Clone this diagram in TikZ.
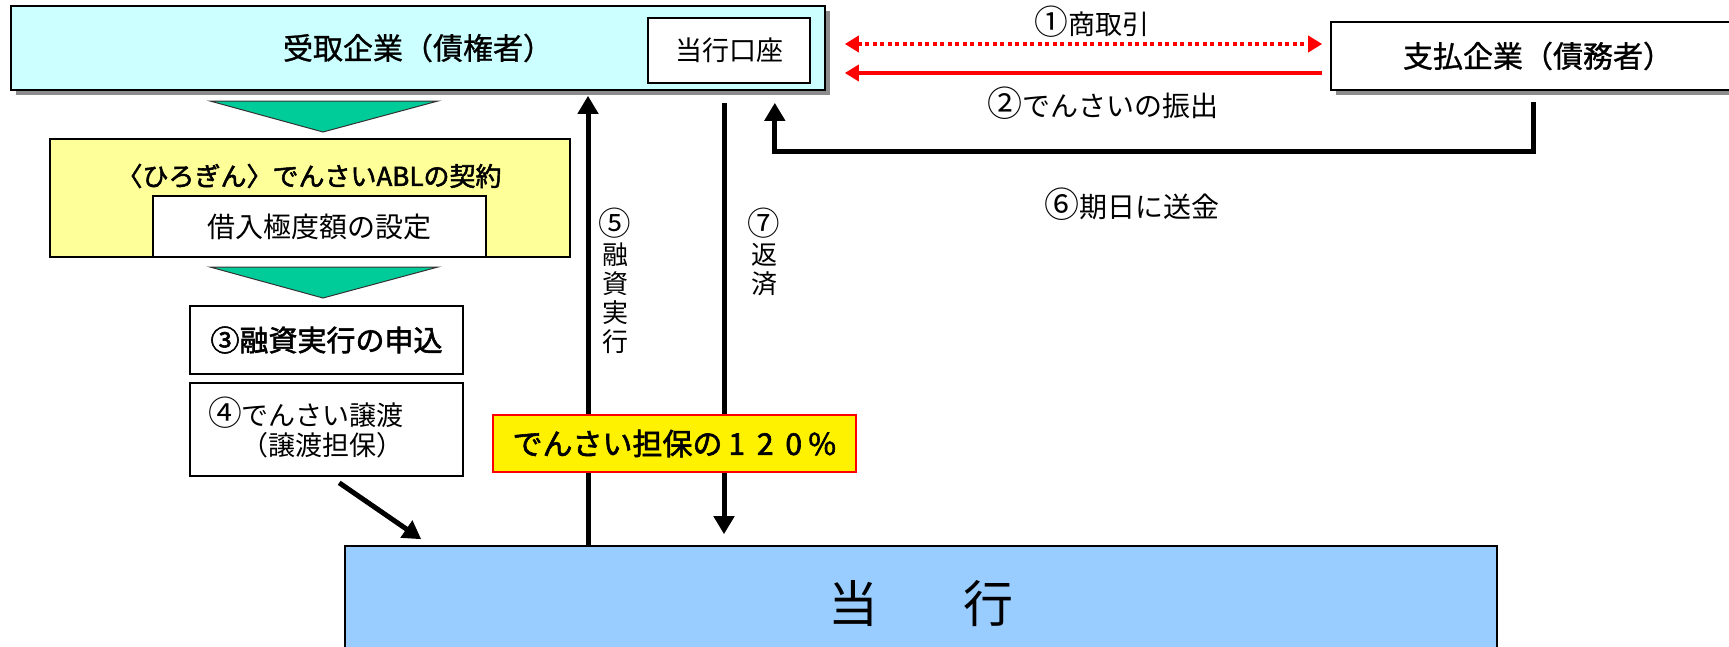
\documentclass[tikz,border=0pt]{standalone}
\usepackage{fontspec}
\newfontfamily\jp[AutoFakeBold=2]{Noto Sans CJK JP}
\newfontfamily\jpmed[FakeBold=1]{Noto Sans CJK JP}
\usetikzlibrary{arrows.meta,shadows,calc}
\newcommand\setfs[1]{\fontsize{#1}{#1}\selectfont}
\newcommand\fwc[1]{\makebox[0.95em]{#1}}
\newcommand\circnum[1]{\scalebox{1.25}{#1}}
\definecolor{cyanbox}{HTML}{CCFFFF}
\definecolor{paleyel}{HTML}{FFFF99}
\definecolor{tealgreen}{HTML}{00CC99}
\definecolor{bankblue}{HTML}{99CCFF}
\begin{document}
\begin{tikzpicture}[x=1pt,y=-1pt,
  box/.style={draw=black, line width=1.6pt, inner sep=0pt, font=\jp},
  shadowed/.style={drop shadow={shadow xshift=5pt, shadow yshift=-5pt, fill=black!45, opacity=1}},
  lbl/.style={inner sep=0pt, font=\jp},
  blkarrow/.style={line width=5pt, -{Triangle[width=20pt,length=18pt]}},
  redarrow/.style={draw=red, line width=4pt, -{Triangle[width=16pt,length=14pt]}},
  reddotted/.style={draw=red, line width=4pt, dash pattern=on 4pt off 3.5pt, {Triangle[width=16pt,length=14pt]}-{Triangle[width=16pt,length=14pt]}},
  tri/.style={fill=tealgreen, draw=black!80, line width=1pt}]
\useasboundingbox (0,0) rectangle (1729,646);

% top: receiving company
\node[box, shadowed, fill=cyanbox, minimum width=814pt, minimum height=84pt, font=\jpmed\setfs{30}] (top) at (418,48) {受取企業（債権者）};
\node[box, fill=white, minimum width=162pt, minimum height=65pt, font=\jp\setfs{27}] (kouza) at (729,50.5) {当行口座};

% paying company
\node[box, shadowed, fill=white, minimum width=414pt, minimum height=68pt, font=\jpmed\setfs{30}] (shiharai) at (1538,56) {支払企業（債務者）};

% red arrows
\draw[reddotted, shorten <=19pt, shorten >=8pt] ([yshift=4pt]top.east) -- ([yshift=12pt]shiharai.west);
\draw[redarrow, shorten <=8pt, shorten >=19pt] ([yshift=-17pt]shiharai.west) -- ([yshift=-25pt]top.east);
\node[lbl, font=\jp\setfs{27}] (l1) at (1092,22) {\circnum{①}商取引};
\node[lbl, font=\jp\setfs{28}] (l2) at (1103,103) {\circnum{②}でんさいの振出};

% (6) payment on due date
\draw[blkarrow] ([xshift=-5pt,yshift=-11pt]shiharai.south) -- ++(0,50) -| ($(top.south east)+(-51,12)$);
\node[lbl, font=\jp\setfs{28}] (l6) at (1132,204) {\circnum{⑥}期日に送金};

% left flow
\draw[tri] (210,101) -- (438,101) -- (323,132) -- cycle;
\node[box, fill=paleyel, minimum width=520pt, minimum height=118pt] (abl) at (310,198) {};
\node[lbl, font=\jp\bfseries\setfs{26}] (abltxt) at (309,176) {〈ひろぎん〉でんさいABLの契約};
\node[box, fill=white, minimum width=333pt, minimum height=61pt, font=\jp\setfs{28}] (gendo) at (319.5,226.5) {借入極度額の設定};
\draw[tri] (210,267) -- (438,267) -- (323,298) -- cycle;
\node[box, fill=white, minimum width=273pt, minimum height=68pt, font=\jp\bfseries\setfs{29}] (box3) at (326.5,340) {③融資実行の申込};
\node[box, fill=white, minimum width=273pt, minimum height=93pt] (box4) at (326.5,429.5) {};
\node[lbl, anchor=west, font=\jp\setfs{27}] (b4a) at (208,413) {\circnum{④}でんさい譲渡};
\node[lbl, anchor=west, font=\jp\setfs{27}] (b4b) at (241,445) {（譲渡担保）};

% bank
\node[box, fill=bankblue, minimum width=1152pt, minimum height=120pt] (touko) at (921,606) {};
\node[lbl, font=\jp\setfs{50}] (toukotxt) at (921,604) {当\hspace{1.7em}行};

% vertical arrows
\draw[blkarrow] (touko.north -| 588,0) -- ([yshift=-5pt]top.south -| 588,0);
\draw[blkarrow] ([yshift=-12pt]top.south -| 724,0) -- ([yshift=11pt]touko.north -| 724,0);
\node[lbl, anchor=north, align=center, font=\jp\fontsize{26}{29}\selectfont] (l5) at (615,208) {\circnum{⑤}\\融\\資\\実\\行};
\node[lbl, anchor=north, align=center, font=\jp\fontsize{26}{29}\selectfont] (l7) at (764,208) {\circnum{⑦}\\返\\済};

% collateral note
\node[draw=red, line width=2pt, fill=yellow, minimum width=363pt, minimum height=57pt, inner sep=0pt, font=\jp\bfseries\setfs{30}] (hosho) at (674.5,443.5) {でんさい担保の\fwc{1}\fwc{2}\fwc{0}\fwc{\%}};

% diagonal arrow
\draw[blkarrow] ($(box4.south west)+(150,6)$) -- ($(touko.north west)+(77,-6)$);
\end{tikzpicture}
\end{document}
